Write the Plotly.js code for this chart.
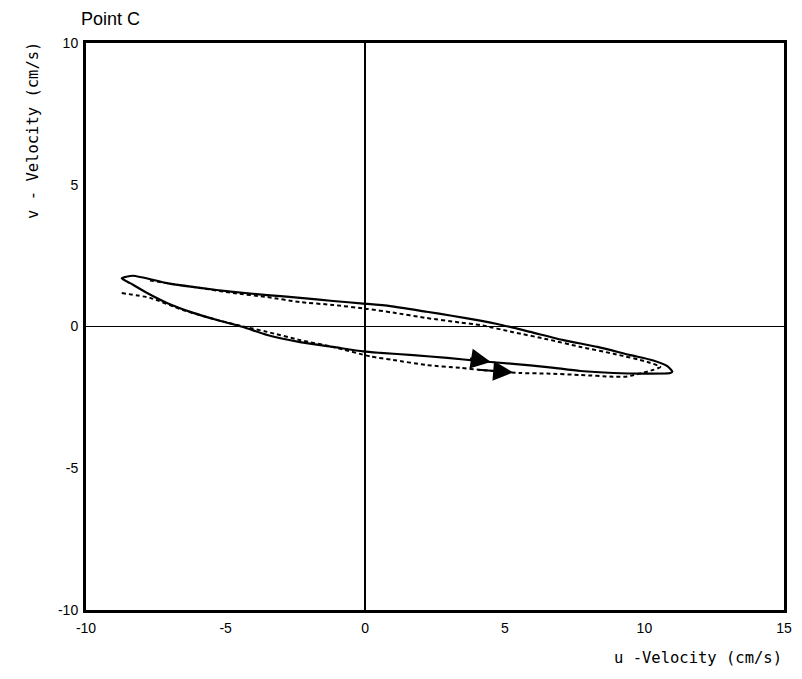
<!DOCTYPE html>
<html>
<head>
<meta charset="utf-8">
<script src="https://cdn.plot.ly/plotly-3.0.1.min.js"></script>
<style>html,body{margin:0;padding:0;background:#fff;}#chart{width:802px;height:679px;}</style>
</head>
<body>
<div id="chart"></div>
<script>
// Measured (solid) hodograph loop, u and v in cm/s
var measuredU = [-8.72, -8.32, -7.10, -5.91, -4.73, -3.51, -2.33, -1.15, -0.07, 0.90, 2.20, 3.10, 4.12, 4.73, 5.91, 7.10, 8.32, 9.50, 10.32, 10.82, 11.00,
                 10.93, 10.11, 8.89, 7.71, 6.52, 5.30, 4.12, 2.94, 1.72, 0.54, -0.07, -1.15, -2.33, -3.51, -4.37, -5.30, -6.16, -7.10, -7.81, -8.42, -8.72];
var measuredV = [1.70, 1.79, 1.53, 1.36, 1.22, 1.11, 1.01, 0.90, 0.81, 0.72, 0.52, 0.38, 0.21, 0.09, -0.19, -0.48, -0.72, -1.01, -1.20, -1.40, -1.59,
                 -1.64, -1.66, -1.64, -1.57, -1.43, -1.32, -1.22, -1.11, -1.01, -0.93, -0.88, -0.72, -0.55, -0.30, -0.02, 0.23, 0.48, 0.83, 1.18, 1.53, 1.70];
// Computed (dashed) hodograph
var computedU = [-8.72, -7.71, -6.52, -5.30, -4.37, -3.51, -2.33, -1.15, 0.20, 1.00, 2.20, 3.40, 4.12, 5.56, 6.52, 7.71, 8.89, 9.39, 10.32, 10.57,
                 10.11, 8.89, 7.71, 6.52, 5.30, 4.12, 3.40, 2.20, 1.00, 0.07, -1.15, -2.33, -3.51, -4.73, -5.91, -7.10, -7.81];
var computedV = [1.18, 1.01, 0.58, 0.23, 0.00, -0.19, -0.48, -0.72, -1.06, -1.18, -1.36, -1.46, -1.53, -1.64, -1.66, -1.71, -1.77, -1.76, -1.53, -1.43,
                 -1.25, -0.96, -0.72, -0.45, -0.20, 0.05, 0.14, 0.30, 0.49, 0.62, 0.76, 0.86, 1.04, 1.18, 1.36, 1.53, 1.64];
// Direction arrows: [tail, head]
var solidArrowU = [3.7, 4.5];
var solidArrowV = [-1.12, -1.25];
var dashArrowU = [4.0, 5.3];
var dashArrowV = [-1.52, -1.62];
var tickVals = [-10, -5, 0, 5, 10, 15];
var tickTextX = ['-10', '-5', '0', '5', '10', '15'];
var tickValsY = [-10, -5, 0, 5, 10];
var tickTextY = ['-10', '-5', '0', '5', '10'];

var traces = [
  {x: measuredU, y: measuredV, mode: 'lines', type: 'scatter',
   line: {color: '#000', width: 2.2, shape: 'spline', smoothing: 0.6}, hoverinfo: 'skip'},
  {x: computedU, y: computedV, mode: 'lines', type: 'scatter',
   line: {color: '#000', width: 2, dash: '4px,3px', shape: 'spline', smoothing: 0.6}, hoverinfo: 'skip'}
];

var axisFont = {family: 'DejaVu Sans Mono, monospace', size: 15.5, color: '#000'};
var tickFont = {family: 'Liberation Sans, Arial, sans-serif', size: 14, color: '#000'};
var layout = {
  width: 802, height: 679,
  margin: {l: 86, r: 18, t: 43, b: 69},
  paper_bgcolor: '#fff', plot_bgcolor: '#fff',
  showlegend: false,
  xaxis: {range: [-10, 15], tickvals: tickVals, ticktext: tickTextX, ticks: '', showgrid: false,
          zeroline: true, zerolinecolor: '#000', zerolinewidth: 1.5,
          showline: true, linecolor: '#000', linewidth: 3, mirror: true,
          tickfont: tickFont, ticklabelstandoff: 3},
  yaxis: {range: [-10, 10], tickvals: tickValsY, ticktext: tickTextY, ticks: '', showgrid: false,
          zeroline: true, zerolinecolor: '#000', zerolinewidth: 1.5,
          showline: true, linecolor: '#000', linewidth: 3, mirror: true,
          tickfont: tickFont, ticklabelstandoff: 2},
  annotations: [
    {xref: 'paper', yref: 'paper', x: -0.01, y: 1.022, xanchor: 'left', yanchor: 'bottom',
     text: 'Point C', showarrow: false, font: {family: 'Liberation Sans, Arial, sans-serif', size: 18, color: '#000'}},
    {xref: 'paper', yref: 'paper', x: 1.0, y: -0.065, xanchor: 'right', yanchor: 'top',
     text: 'u -Velocity (cm/s)', showarrow: false, font: axisFont},
    {xref: 'paper', yref: 'paper', x: -0.077, y: 1.005, xanchor: 'center', yanchor: 'top',
     text: 'v - Velocity (cm/s)', textangle: -90, showarrow: false, font: axisFont},
    {x: solidArrowU[1], y: solidArrowV[1], ax: solidArrowU[0], ay: solidArrowV[0], axref: 'x', ayref: 'y',
     xref: 'x', yref: 'y', text: '', showarrow: true, arrowhead: 2, arrowsize: 2, arrowwidth: 2, arrowcolor: '#000'},
    {x: dashArrowU[1], y: dashArrowV[1], ax: dashArrowU[0], ay: dashArrowV[0], axref: 'x', ayref: 'y',
     xref: 'x', yref: 'y', text: '', showarrow: true, arrowhead: 2, arrowsize: 2, arrowwidth: 2, arrowcolor: '#000'}
  ]
};
Plotly.newPlot('chart', traces, layout, {staticPlot: true, displayModeBar: false});
</script>
</body>
</html>
